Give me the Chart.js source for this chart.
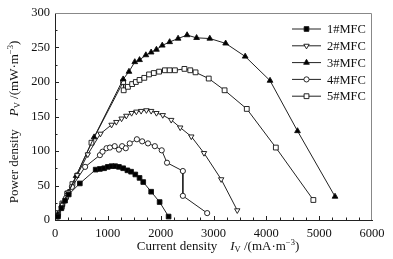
<!DOCTYPE html>
<html>
<head>
<meta charset="utf-8">
<script src="https://cdn.jsdelivr.net/npm/chart.js@4/dist/chart.umd.min.js"></script>
<style>
  html, body { margin: 0; padding: 0; background: #fff; }
  #wrap { width: 393px; height: 259px; }
</style>
</head>
<body>
<div id="wrap"><canvas id="c" width="393" height="259"></canvas></div>
<script>
// series names
const seriesNames = ['1#MFC', '2#MFC', '3#MFC', '4#MFC', '5#MFC'];

// current density (mA/m3) and power density (mW/m3)
const mfc1X = [55, 120, 190, 260, 470, 770, 850, 930, 1000, 1070, 1140, 1210, 1290, 1370, 1440, 1520, 1600, 1670, 1820, 1980, 2150];
const mfc1Y = [5, 17, 28, 37, 53, 73, 74, 75, 77, 78, 78, 77, 75, 72, 70, 66, 61, 55, 41, 26, 5];

const mfc2X = [55, 140, 250, 420, 620, 860, 1070, 1160, 1260, 1350, 1450, 1540, 1630, 1730, 1820, 1920, 2040, 2200, 2370, 2580, 2820, 3145, 3450];
const mfc2Y = [6, 22, 40, 65, 95, 125, 138, 142, 147, 151, 155, 157, 158, 159, 158, 155, 152, 145, 134, 121, 97, 59, 14];

const mfc3X = [50, 130, 250, 400, 740, 1290, 1400, 1510, 1600, 1720, 1820, 1920, 2030, 2170, 2330, 2500, 2680, 2930, 3230, 3600, 4070, 4590, 5300];
const mfc3Y = [8, 22, 40, 64, 120, 204, 215, 229, 232, 239, 243, 247, 253, 258, 263, 268, 264, 263, 256, 237, 202, 129, 34];

const mfc4X = [55, 130, 210, 320, 570, 850, 900, 975, 1040, 1130, 1210, 1270, 1340, 1415, 1550, 1650, 1760, 1890, 2020, 2120, 2420, 2420, 2880];
const mfc4Y = [5, 18, 32, 48, 77, 94, 99, 104, 105, 107, 102, 107, 104, 111, 117, 114, 111, 107, 101, 83, 71, 35, 10];

const mfc5X = [60, 140, 230, 330, 690, 1290, 1300, 1380, 1460, 1530, 1600, 1690, 1780, 1870, 1970, 2080, 2170, 2270, 2450, 2560, 2660, 2910, 3210, 3630, 4180, 4890];
const mfc5Y = [10, 24, 38, 52, 112, 200, 188, 193, 197, 200, 203, 206, 211, 213, 215, 217, 217, 217, 219, 217, 214, 205, 188, 161, 105, 29];

// axis ticks
const xTicks = [0, 1000, 2000, 3000, 4000, 5000, 6000];
const yTicks = [0, 50, 100, 150, 200, 250, 300];

const SERIF = '"Liberation Serif", "DejaVu Serif", serif';

function pts(xs, ys) {
  return xs.map((x, i) => ({ x: x, y: ys[i] }));
}

// marker look for each series
const markers = [
  { style: 'rect', fill: '#000', radius: 3.3, rot: 0 },
  { style: 'triangle', fill: '#fff', radius: 3.1, rot: 180 },
  { style: 'triangle', fill: '#000', radius: 3.3, rot: 0 },
  { style: 'circle', fill: '#fff', radius: 2.6, rot: 0 },
  { style: 'rect', fill: '#fff', radius: 3.4, rot: 0 }
];
const seriesData = [
  pts(mfc1X, mfc1Y), pts(mfc2X, mfc2Y), pts(mfc3X, mfc3Y), pts(mfc4X, mfc4Y), pts(mfc5X, mfc5Y)
];

const datasets = seriesNames.map((name, i) => ({
  label: name,
  data: seriesData[i],
  showLine: true,
  borderColor: '#222',
  borderWidth: 1,
  pointStyle: markers[i].style,
  pointRadius: markers[i].radius,
  pointRotation: markers[i].rot,
  pointBackgroundColor: markers[i].fill,
  pointBorderColor: '#111',
  pointBorderWidth: 0.9,
  tension: 0
}));

// inward ticks, frame, axis titles, legend
const decor = {
  id: 'decor',
  afterDraw(chart) {
    const ctx = chart.ctx;
    const a = chart.chartArea;
    const xs = chart.scales.x, ys = chart.scales.y;
    ctx.save();
    // gray frame top/right
    ctx.strokeStyle = '#888';
    ctx.lineWidth = 1;
    ctx.beginPath();
    ctx.moveTo(a.left, a.top + 0.5);
    ctx.lineTo(a.right - 0.5, a.top + 0.5);
    ctx.lineTo(a.right - 0.5, a.bottom);
    ctx.stroke();

    // inward ticks
    ctx.strokeStyle = '#222';
    ctx.beginPath();
    for (let v = 250; v < 6000; v += 250) {
      const px = Math.round(xs.getPixelForValue(v)) + 0.5;
      const len = v % 1000 === 0 ? 4 : 2.5;
      ctx.moveTo(px, a.bottom);
      ctx.lineTo(px, a.bottom - len);
    }
    for (let v = 25; v < 300; v += 25) {
      const py = Math.round(ys.getPixelForValue(v)) + 0.5;
      const len = v % 50 === 0 ? 4 : 2.5;
      ctx.moveTo(a.left, py);
      ctx.lineTo(a.left + len, py);
    }
    ctx.stroke();

    // axis titles with sub/superscripts
    function drawRich(parts, cx, cy) {
      let w = 0;
      parts.forEach(p => { ctx.font = p.font; w += ctx.measureText(p.t).width; });
      let x = cx - w / 2;
      ctx.textBaseline = 'middle';
      ctx.textAlign = 'left';
      ctx.fillStyle = '#111';
      parts.forEach(p => {
        ctx.font = p.font;
        ctx.fillText(p.t, x, cy + (p.dy || 0));
        x += ctx.measureText(p.t).width;
      });
    }
    const f = '13px ' + SERIF, fi = 'italic 13px ' + SERIF, fs = '8.5px ' + SERIF;
    drawRich([
      { t: 'Current density    ', font: f },
      { t: 'I', font: fi },
      { t: 'V', font: fs, dy: 3 },
      { t: ' /(mA·m', font: f },
      { t: '−3', font: fs, dy: -4 },
      { t: ')', font: f }
    ], 218, 247);

    ctx.save();
    ctx.translate(15, 122);
    ctx.rotate(-Math.PI / 2);
    drawRich([
      { t: 'Power density    ', font: f },
      { t: 'P', font: fi },
      { t: 'V', font: fs, dy: 3 },
      { t: ' /(mW·m', font: f },
      { t: '−3', font: fs, dy: -4 },
      { t: ')', font: f }
    ], 0, 0);
    ctx.restore();

    // legend
    chart.data.datasets.forEach((ds, i) => {
      const y = 29 + i * 16.8;
      ctx.strokeStyle = '#222';
      ctx.lineWidth = 1;
      ctx.beginPath();
      ctx.moveTo(292, y);
      ctx.lineTo(321, y);
      ctx.stroke();
      ctx.fillStyle = ds.pointBackgroundColor;
      ctx.strokeStyle = ds.pointBorderColor;
      ctx.lineWidth = ds.pointBorderWidth;
      Chart.helpers.drawPoint(ctx, {
        pointStyle: ds.pointStyle,
        radius: ds.pointRadius,
        rotation: ds.pointRotation,
        borderWidth: ds.pointBorderWidth
      }, 306.5, y);
      ctx.font = '12.5px ' + SERIF;
      ctx.fillStyle = '#111';
      ctx.textAlign = 'left';
      ctx.textBaseline = 'middle';
      ctx.fillText(ds.label, 327, y + 1);
    });
    ctx.restore();
  }
};

new Chart(document.getElementById('c'), {
  type: 'scatter',
  data: { datasets: datasets },
  options: {
    responsive: false,
    animation: false,
    layout: { padding: { top: 13, right: 21, left: 0, bottom: 0 } },
    plugins: { legend: { display: false }, tooltip: { enabled: false } },
    scales: {
      x: {
        type: 'linear',
        min: 0, max: 6000,
        afterBuildTicks: s => { s.ticks = xTicks.map(v => ({ value: v })); },
        afterFit: s => { s.height = 39; },
        grid: { drawOnChartArea: false, drawTicks: false },
        border: { display: true, color: '#222', width: 1 },
        ticks: { color: '#111', padding: 6, maxRotation: 0, callback: v => String(v), font: { family: SERIF, size: 12.5 } }
      },
      y: {
        type: 'linear',
        min: 0, max: 300,
        afterBuildTicks: s => { s.ticks = yTicks.map(v => ({ value: v })); },
        afterFit: s => { s.width = 55; },
        grid: { drawOnChartArea: false, drawTicks: false },
        border: { display: true, color: '#222', width: 1 },
        ticks: { color: '#111', padding: 5, callback: v => String(v), font: { family: SERIF, size: 12.5 } }
      }
    }
  },
  plugins: [decor]
});
</script>
</body>
</html>
